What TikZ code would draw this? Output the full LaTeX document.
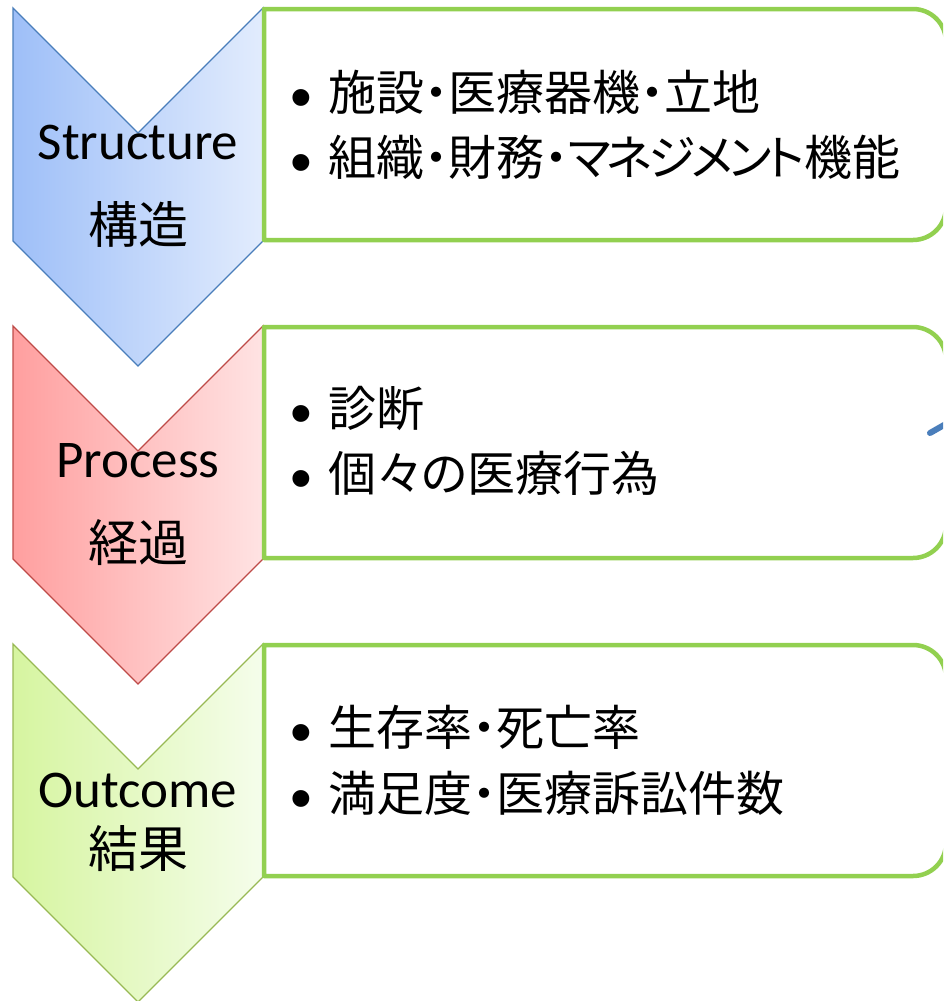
\documentclass[tikz,border=0pt]{standalone}
\usepackage{fontspec}
\setmainfont{Carlito}
\newfontfamily\jp{Noto Sans CJK JP}
\newfontfamily\jpp{Noto Sans CJK JP}[RawFeature=+palt]
\newfontfamily\bulf{Liberation Sans}
\definecolor{bluel}{HTML}{9EBFF8}
\definecolor{bluer}{HTML}{E2ECFD}
\definecolor{blueb}{HTML}{4A7EBB}
\definecolor{redl}{HTML}{FF9F9F}
\definecolor{redr}{HTML}{FFE3E3}
\definecolor{redb}{HTML}{BE4B48}
\definecolor{grnl}{HTML}{D6F5A0}
\definecolor{grnr}{HTML}{F5FDEB}
\definecolor{grnb}{HTML}{98B954}
\definecolor{boxg}{HTML}{92D050}
\definecolor{markb}{HTML}{4A7EBB}
\begin{document}
\begin{tikzpicture}[x=1pt,y=-1pt,
  enlabel/.style={inner sep=0pt, anchor=base, font=\fontsize{53}{62}\selectfont},
  jplabel/.style={inner sep=0pt, anchor=base, font=\jp\fontsize{50}{60}\selectfont},
  item/.style={inner sep=0pt, anchor=base west, font=\jpp\fontsize{48}{58}\selectfont},
  greenbox/.style={draw=boxg, line width=4.5pt, fill=white, line join=round},
  chevline/.style={line width=1.3pt, line join=miter}]
\useasboundingbox (0,0) rectangle (943,1001);
\clip (0,0) rectangle (943,1001);
\newcommand\bul{\makebox[38pt][l]{\raisebox{-8pt}{\bulf\fontsize{62}{62}\selectfont •}}}
\newcommand\tight[1]{{\addfontfeature{LetterSpace=-9}#1}}
% chevrons
\path[chevline, draw=blueb, left color=bluel, right color=bluer]
  (13,8) -- (138,133) -- (263,8) -- (263,241) -- (138,366) -- (13,241) -- cycle;
\path[chevline, draw=redb, left color=redl, right color=redr]
  (13,326) -- (138,451) -- (263,326) -- (263,559) -- (138,684) -- (13,559) -- cycle;
\path[chevline, draw=grnb, left color=grnl, right color=grnr]
  (13,644) -- (138,769) -- (263,644) -- (263,877) -- (138,1002) -- (13,877) -- cycle;
% boxes
\draw[greenbox] (264,9) -- (913,9) arc(-90:0:33) -- (946,207) arc(0:90:33) -- (264,240) -- cycle;
\draw[greenbox] (264,327) -- (913,327) arc(-90:0:33) -- (946,525) arc(0:90:33) -- (264,558) -- cycle;
\draw[greenbox] (264,645) -- (913,645) arc(-90:0:33) -- (946,843) arc(0:90:33) -- (264,876) -- cycle;
% labels
\node[enlabel] (sen) at (138,159) {Structure};
\node[jplabel] (sjp) at (138,243) {構造};
\node[enlabel] (pen) at (138,477) {Process};
\node[jplabel] (pjp) at (138,561) {経過};
\node[enlabel] (oen) at (138,807) {Outcome};
\node[jplabel] (ojp) at (138,867) {結果};
% items
\node[item] (s1) at (290,110) {\bul 施設・医療器機・立地};
\node[item] (s2) at (290,175) {\bul 組織・財務・\tight{マネジメント}機能};
\node[item] (p1) at (290,426) {\bul 診断};
\node[item] (p2) at (290,491) {\bul 個々の医療行為};
\node[item] (o1) at (290,745) {\bul 生存率・死亡率};
\node[item] (o2) at (290,811) {\bul 満足度・医療訴訟件数};
% partial connector at right edge
\coordinate (arrA) at (930,433);
\coordinate (arrB) at (965,413);
\draw[markb, line width=6pt, line cap=round] (arrA) -- (arrB);
\end{tikzpicture}
\end{document}
